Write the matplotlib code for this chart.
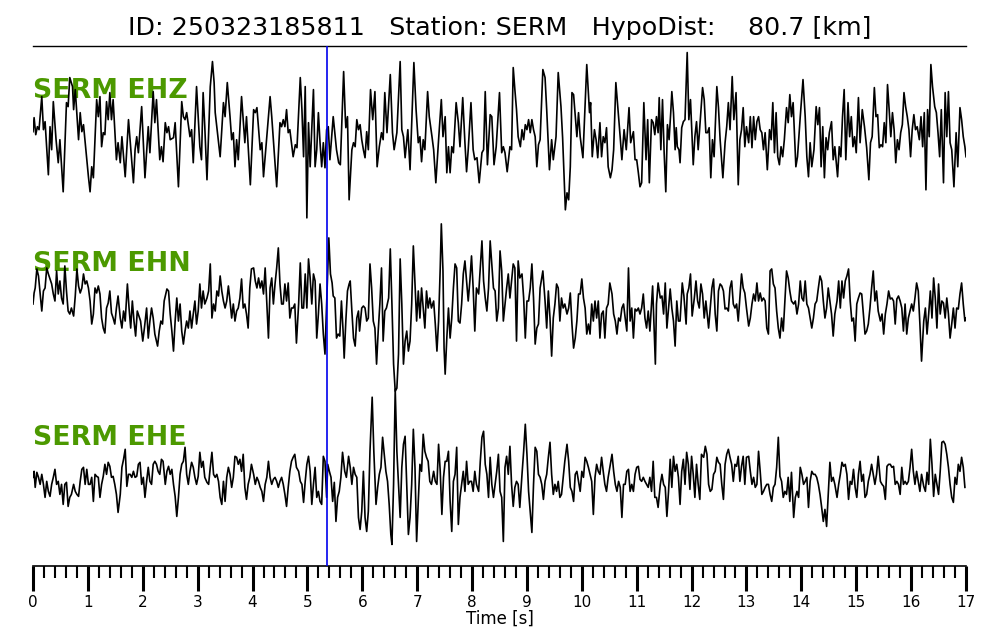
import numpy as np
import matplotlib
matplotlib.use("Agg")
import matplotlib.pyplot as plt
from matplotlib.ticker import MultipleLocator

event_id = "250323185811"
station = "SERM"
hypo_dist = 80.7  # km
channels = ["EHZ", "EHN", "EHE"]
p_pick = 5.36  # s, blue marker

# (time [s], amplitude [counts]) picked off the traces
ehz = [(0.00, 1), (0.02, 15), (0.05, -2), (0.08, 6), (0.11, 3), (0.16, 36), (0.19, 3), (0.22, 11), (0.28, -42), (0.31, 6),
       (0.34, -17), (0.37, 31), (0.42, -7), (0.46, -30), (0.49, -7), (0.55, -59), (0.61, 30), (0.64, 26), (0.67, 55), (0.72, 46),
       (0.74, 23), (0.77, 43), (0.83, -7), (0.86, 20), (0.89, 1), (0.92, 8), (1.01, -44), (1.04, -59), (1.07, -34), (1.10, -45),
       (1.16, 33), (1.19, 16), (1.22, 36), (1.25, -14), (1.28, 0), (1.31, -2), (1.34, 31), (1.37, 13), (1.40, 40), (1.43, 13),
       (1.46, 33), (1.52, -27), (1.55, -10), (1.59, -30), (1.62, -4), (1.68, -44), (1.74, 13), (1.83, -50), (1.86, -17), (1.89, -4),
       (1.92, -20), (1.98, 26), (2.04, -45), (2.10, 6), (2.13, -20), (2.19, 41), (2.22, 10), (2.25, 33), (2.31, -27), (2.34, -14),
       (2.37, -29), (2.41, 10), (2.44, 0), (2.47, 6), (2.50, -7), (2.56, -5), (2.59, 10), (2.65, -54), (2.71, 31), (2.74, 16),
       (2.77, 13), (2.80, 20), (2.86, -4), (2.89, 3), (2.92, -30), (2.98, 46), (3.04, -14), (3.07, -27), (3.10, 40), (3.13, 6),
       (3.17, -47), (3.23, 46), (3.27, 71), (3.30, 50), (3.32, 20), (3.41, -24), (3.47, 30), (3.50, 16), (3.54, 50), (3.59, 16),
       (3.62, -7), (3.65, 0), (3.68, -34), (3.71, -7), (3.74, -27), (3.80, 36), (3.86, -10), (3.89, 16), (3.96, -52), (4.02, 23),
       (4.05, 20), (4.08, 25), (4.14, -17), (4.17, -10), (4.20, -44), (4.32, 36), (4.35, 16), (4.44, -54), (4.50, 10), (4.53, 6),
       (4.56, 13), (4.59, 6), (4.62, 23), (4.65, 0), (4.68, 3), (4.74, -24), (4.78, -12), (4.81, -15), (4.87, 55), (4.90, 23),
       (4.93, -24), (4.96, 46), (4.99, -85), (5.02, 10), (5.05, -34), (5.11, 43), (5.14, -34), (5.17, -17), (5.20, 20), (5.23, -10),
       (5.26, -34), (5.29, -10), (5.32, -35), (5.35, 3), (5.38, 6), (5.41, -27), (5.47, 16), (5.53, -17), (5.57, -30), (5.60, -32),
       (5.66, 61), (5.69, 16), (5.70, 5), (5.73, 16), (5.76, -67), (5.81, -17), (5.84, -10), (5.87, -14), (5.90, 13), (5.93, 3),
       (5.96, 8), (5.99, -7), (6.02, -17), (6.05, -25), (6.08, 1), (6.11, -17), (6.15, 43), (6.19, 13), (6.23, 41), (6.27, -34),
       (6.31, -14), (6.35, 0), (6.38, -7), (6.41, 40), (6.45, 0), (6.51, 58), (6.55, 0), (6.58, -17), (6.63, 0), (6.69, 71),
       (6.72, 3), (6.75, -4), (6.78, -25), (6.83, 3), (6.87, -37), (6.94, 70), (6.98, 23), (7.02, -10), (7.05, -4), (7.08, -29),
       (7.11, -7), (7.14, -17), (7.19, 41), (7.22, 16), (7.27, -4), (7.30, -17), (7.34, -50), (7.39, -7), (7.44, 33), (7.47, -4),
       (7.51, 16), (7.54, -40), (7.57, -14), (7.60, -40), (7.63, -14), (7.66, -20), (7.71, 30), (7.75, 10), (7.78, -14), (7.83, 35),
       (7.87, -10), (7.90, -39), (7.93, -17), (7.98, 30), (8.02, -17), (8.05, -27), (8.09, -25), (8.13, -50), (8.18, -20), (8.21, -17),
       (8.24, 41), (8.28, -32), (8.33, 18), (8.36, 16), (8.40, -32), (8.44, -14), (8.50, 40), (8.54, -20), (8.57, -14), (8.60, -20),
       (8.64, -39), (8.69, -14), (8.72, -17), (8.75, 65), (8.78, 43), (8.81, 23), (8.84, -4), (8.88, -14), (8.91, 3), (8.94, -7),
       (8.97, 8), (9.00, 3), (9.03, 13), (9.06, 0), (9.09, 13), (9.12, 3), (9.15, -4), (9.18, -34), (9.21, -12), (9.24, -7),
       (9.29, 63), (9.33, 55), (9.36, 23), (9.41, -37), (9.45, -7), (9.48, -27), (9.53, -4), (9.57, 60), (9.62, 26), (9.65, -5),
       (9.70, -77), (9.73, -60), (9.76, -67), (9.79, -34), (9.82, 40), (9.85, 38), (9.91, -4), (9.94, 20), (9.97, -4), (10.02, -25),
       (10.09, 68), (10.14, 20), (10.16, 30), (10.19, -24), (10.23, 3), (10.26, -7), (10.29, -25), (10.33, 10), (10.36, -24), (10.39, -4),
       (10.42, -10), (10.45, 5), (10.48, -34), (10.52, -45), (10.55, -37), (10.58, -17), (10.62, 50), (10.67, 16), (10.70, -5), (10.73, -27),
       (10.77, 3), (10.81, -17), (10.86, 25), (10.89, -10), (10.94, 1), (10.97, -27), (11.00, -27), (11.03, -40), (11.06, -54), (11.09, -50),
       (11.13, 30), (11.17, -27), (11.20, 13), (11.23, -50), (11.27, 13), (11.30, 10), (11.33, -2), (11.36, 16), (11.39, 0), (11.41, 35),
       (11.44, -17), (11.47, 33), (11.50, -20), (11.53, -59), (11.56, 8), (11.59, -7), (11.62, 20), (11.64, 41), (11.67, 20), (11.70, -17),
       (11.72, 5), (11.74, -14), (11.77, -17), (11.79, -30), (11.82, 5), (11.85, 11), (11.88, 13), (11.92, 80), (11.95, 13), (11.98, 33),
       (12.03, -32), (12.06, -4), (12.09, 11), (12.12, -17), (12.15, 6), (12.20, 45), (12.23, 33), (12.26, 0), (12.29, 0), (12.32, 5),
       (12.35, -45), (12.38, -7), (12.41, -24), (12.46, 46), (12.49, 25), (12.52, -7), (12.57, -45), (12.61, -10), (12.64, 6), (12.67, 30),
       (12.70, 3), (12.74, 56), (12.77, 13), (12.81, 40), (12.85, -52), (12.88, -7), (12.91, 3), (12.94, 25), (12.97, -14), (13.00, 6),
       (13.04, -10), (13.07, 16), (13.10, -15), (13.13, 16), (13.16, -7), (13.19, 11), (13.22, 16), (13.25, 3), (13.28, 0), (13.31, -17),
       (13.34, 0), (13.38, -37), (13.42, 3), (13.45, -7), (13.48, 30), (13.51, -20), (13.54, 20), (13.57, -24), (13.60, -32), (13.63, -14),
       (13.66, -24), (13.69, -7), (13.73, 25), (13.76, 10), (13.79, 38), (13.82, 16), (13.85, 30), (13.90, -34), (13.93, -24), (13.98, 16),
       (14.03, 53), (14.07, 16), (14.10, -24), (14.13, -44), (14.16, -10), (14.19, -34), (14.23, -17), (14.27, 26), (14.30, 8), (14.33, 25),
       (14.36, -34), (14.39, 6), (14.42, -45), (14.45, -5), (14.48, -17), (14.51, 0), (14.55, 11), (14.58, -27), (14.61, -14), (14.66, -44),
       (14.69, -14), (14.72, -24), (14.75, 16), (14.78, 43), (14.81, -27), (14.85, 30), (14.88, -4), (14.91, 16), (14.94, -14), (14.97, -4),
       (15.00, -20), (15.04, 35), (15.07, -10), (15.11, 23), (15.15, 6), (15.19, -15), (15.23, -47), (15.26, -10), (15.29, -4), (15.33, 45),
       (15.36, 16), (15.39, 18), (15.42, -15), (15.45, -12), (15.48, -14), (15.51, 10), (15.54, -10), (15.57, 48), (15.60, 23), (15.63, -4),
       (15.66, 20), (15.69, 3), (15.72, -30), (15.75, -7), (15.78, -17), (15.81, 0), (15.84, 8), (15.87, 40), (15.90, 26), (15.93, 16),
       (15.96, 3), (15.99, -24), (16.02, 3), (16.05, 18), (16.08, 3), (16.11, 6), (16.15, -7), (16.18, 16), (16.21, -14), (16.24, 20),
       (16.27, -57), (16.30, 23), (16.33, -4), (16.36, 68), (16.39, 46), (16.43, 26), (16.46, 20), (16.49, 0), (16.52, -24), (16.55, 23),
       (16.59, -50), (16.62, 40), (16.65, -4), (16.68, 41), (16.71, -10), (16.74, -17), (16.78, -54), (16.82, 0), (16.85, -34), (16.89, 25),
       (16.92, 13), (16.95, -4), (16.98, -14), (17.00, -24)]

ehn = [(0.00, 2), (0.02, 13), (0.04, 18), (0.07, 37), (0.10, 30), (0.13, 13), (0.16, -5), (0.19, 15), (0.22, 18), (0.25, 38),
       (0.28, 32), (0.31, 27), (0.34, 22), (0.37, 12), (0.40, 5), (0.43, 35), (0.46, 12), (0.49, 25), (0.52, 8), (0.55, 2),
       (0.58, 40), (0.61, 15), (0.64, -5), (0.67, -8), (0.70, -2), (0.74, -10), (0.77, 10), (0.80, 37), (0.83, 20), (0.86, 13),
       (0.89, 18), (0.92, 32), (0.95, 22), (0.98, 25), (1.01, 18), (1.04, 5), (1.07, -18), (1.10, -8), (1.13, 18), (1.16, 13),
       (1.19, 20), (1.22, 12), (1.25, -12), (1.28, -22), (1.31, -27), (1.34, -2), (1.37, 3), (1.40, 15), (1.43, -7), (1.46, -12),
       (1.49, -18), (1.52, -2), (1.55, 10), (1.59, -12), (1.62, -22), (1.65, -5), (1.68, -15), (1.72, 22), (1.75, -2), (1.78, -22),
       (1.81, 5), (1.84, -15), (1.87, -30), (1.90, -5), (1.93, -10), (1.96, -15), (2.00, -35), (2.03, -22), (2.07, -2), (2.10, -32),
       (2.13, -15), (2.16, -2), (2.19, -12), (2.22, -28), (2.27, -40), (2.30, -25), (2.33, -15), (2.36, -18), (2.39, 5), (2.44, 17),
       (2.47, 15), (2.50, -8), (2.53, -25), (2.56, -45), (2.59, -15), (2.62, 8), (2.65, -15), (2.68, 2), (2.71, -25), (2.74, -38),
       (2.77, -25), (2.80, -15), (2.83, -22), (2.86, -5), (2.89, -22), (2.92, -8), (2.95, 5), (2.98, -18), (3.01, -5), (3.04, 22),
       (3.07, -2), (3.10, 15), (3.13, 2), (3.17, 8), (3.20, 15), (3.23, 42), (3.26, -12), (3.29, 2), (3.32, -5), (3.35, 15),
       (3.38, 10), (3.41, 30), (3.44, 15), (3.47, 5), (3.50, -2), (3.53, 5), (3.56, 20), (3.59, 5), (3.62, -12), (3.65, 2),
       (3.68, -15), (3.71, -5), (3.74, -2), (3.77, 8), (3.80, 27), (3.83, -2), (3.86, 2), (3.89, -8), (3.92, -22), (3.95, 18),
       (3.98, 37), (4.02, 38), (4.05, 25), (4.08, 18), (4.11, 28), (4.14, 18), (4.17, 25), (4.20, 12), (4.23, 38), (4.26, 2),
       (4.29, -32), (4.32, 18), (4.35, 28), (4.38, 2), (4.41, 22), (4.44, 38), (4.47, 58), (4.50, 22), (4.53, 2), (4.56, 2),
       (4.59, 22), (4.62, 5), (4.65, 23), (4.68, -12), (4.71, -2), (4.74, -2), (4.77, 2), (4.80, -37), (4.84, 2), (4.87, 43),
       (4.90, -2), (4.93, -2), (4.96, 32), (4.99, -2), (5.02, 47), (5.05, 28), (5.08, 2), (5.11, 32), (5.14, 25), (5.17, -32),
       (5.20, -8), (5.23, 22), (5.26, 2), (5.29, -28), (5.32, -48), (5.34, -15), (5.37, 35), (5.39, 68), (5.42, 32), (5.45, 23),
       (5.47, 10), (5.50, 8), (5.53, -32), (5.56, -28), (5.59, -30), (5.62, 5), (5.65, -25), (5.67, -52), (5.70, -15), (5.73, 15),
       (5.76, 22), (5.78, 25), (5.81, -5), (5.84, -32), (5.87, -40), (5.90, -12), (5.93, -5), (5.95, -25), (5.99, -2), (6.02, 0),
       (6.05, -2), (6.08, -15), (6.11, -12), (6.14, 42), (6.17, 18), (6.20, -15), (6.23, -22), (6.26, -58), (6.29, -25), (6.32, 2),
       (6.35, 38), (6.38, -35), (6.41, -5), (6.44, -2), (6.48, 8), (6.51, 57), (6.54, 2), (6.57, -58), (6.60, -85), (6.63, -82),
       (6.66, -48), (6.69, 47), (6.72, 2), (6.75, -58), (6.78, -35), (6.81, -25), (6.84, -45), (6.87, -35), (6.90, 2), (6.93, 60),
       (6.96, 22), (6.99, -15), (7.02, 15), (7.05, -12), (7.08, 18), (7.11, -2), (7.14, -22), (7.17, 15), (7.20, -2), (7.23, 8),
       (7.26, -2), (7.30, 5), (7.33, -18), (7.36, -45), (7.39, -15), (7.42, 38), (7.44, 82), (7.47, 35), (7.49, -42), (7.51, -68),
       (7.54, -32), (7.57, -2), (7.60, -32), (7.63, -12), (7.66, 18), (7.69, 42), (7.72, 38), (7.75, -15), (7.78, -17), (7.81, 2),
       (7.84, 32), (7.87, 45), (7.90, 25), (7.93, 5), (7.96, 25), (7.99, 50), (8.02, 18), (8.05, -25), (8.08, 18), (8.12, 12),
       (8.15, 38), (8.18, 65), (8.21, 25), (8.24, 8), (8.27, -5), (8.30, 18), (8.33, 65), (8.36, 42), (8.39, 18), (8.42, 15),
       (8.45, -15), (8.48, -2), (8.51, 55), (8.54, 35), (8.57, -15), (8.60, 2), (8.63, 18), (8.66, 32), (8.69, 8), (8.72, 25),
       (8.75, 42), (8.78, 38), (8.81, -35), (8.84, 45), (8.87, 28), (8.91, 32), (8.94, 8), (8.97, -32), (9.00, 5), (9.03, 5),
       (9.06, 18), (9.09, 42), (9.12, 8), (9.15, -38), (9.18, -22), (9.21, -18), (9.24, 18), (9.29, 35), (9.33, 5), (9.36, -22),
       (9.39, 15), (9.42, -12), (9.45, -50), (9.48, -12), (9.51, 2), (9.54, 22), (9.57, 18), (9.60, -15), (9.63, 8), (9.66, -2),
       (9.69, 2), (9.73, -8), (9.76, -2), (9.79, 13), (9.82, -18), (9.85, -42), (9.88, -32), (9.91, -15), (9.94, 12), (9.97, 12),
       (10.00, 27), (10.03, 8), (10.06, -2), (10.09, -28), (10.12, -18), (10.15, -28), (10.18, 2), (10.21, -15), (10.24, 5), (10.27, -12),
       (10.30, 5), (10.33, -32), (10.36, -8), (10.39, -5), (10.42, -32), (10.45, -2), (10.48, 2), (10.51, 23), (10.55, 12), (10.58, -8),
       (10.61, -15), (10.64, -28), (10.67, -12), (10.70, -15), (10.73, -2), (10.76, 2), (10.79, -12), (10.82, -25), (10.85, 38), (10.88, -15),
       (10.91, -2), (10.94, -32), (10.97, -3), (11.00, -5), (11.03, -2), (11.06, -8), (11.09, -2), (11.12, 12), (11.15, -12), (11.18, -22),
       (11.21, -5), (11.24, -25), (11.29, 20), (11.34, -58), (11.36, 2), (11.39, 23), (11.43, 8), (11.46, 10), (11.49, -8), (11.52, 23),
       (11.55, -22), (11.58, -2), (11.61, 17), (11.64, -2), (11.67, -15), (11.70, -40), (11.73, 5), (11.76, -15), (11.79, -15), (11.83, 23),
       (11.86, 10), (11.90, -18), (11.92, 12), (11.95, 18), (11.98, 32), (12.01, -10), (12.05, 8), (12.08, 25), (12.11, 5), (12.14, -2),
       (12.17, 22), (12.20, 12), (12.23, -12), (12.26, 5), (12.31, -22), (12.34, -2), (12.37, 18), (12.40, 27), (12.43, -8), (12.46, -25),
       (12.49, 15), (12.52, 22), (12.55, 20), (12.58, 15), (12.61, -3), (12.64, -2), (12.67, -5), (12.70, 18), (12.73, 25), (12.76, 2),
       (12.79, -2), (12.82, 2), (12.85, -15), (12.88, 8), (12.91, 32), (12.94, 18), (12.97, 13), (13.00, -2), (13.04, -20), (13.07, -12),
       (13.10, 2), (13.13, 12), (13.16, 5), (13.19, 23), (13.22, 5), (13.25, 13), (13.28, 5), (13.31, 8), (13.34, 5), (13.37, -22),
       (13.40, -28), (13.43, 35), (13.46, 37), (13.49, 22), (13.52, 18), (13.55, -5), (13.58, -22), (13.61, -32), (13.64, -12), (13.67, -25),
       (13.70, 5), (13.73, 35), (13.76, 28), (13.79, 15), (13.82, 5), (13.86, 2), (13.89, 5), (13.92, -8), (13.95, 2), (13.98, 25),
       (14.01, 8), (14.04, 5), (14.07, 25), (14.10, 2), (14.13, -2), (14.16, -12), (14.19, -22), (14.22, -12), (14.25, 2), (14.28, 5),
       (14.31, 18), (14.34, 30), (14.37, 25), (14.40, 5), (14.43, -12), (14.46, -2), (14.49, 18), (14.52, 5), (14.55, -8), (14.58, -30),
       (14.61, -8), (14.65, 5), (14.68, 25), (14.71, -2), (14.74, 25), (14.77, 8), (14.80, 25), (14.83, 30), (14.86, 37), (14.89, 5),
       (14.92, -15), (14.95, -12), (14.98, -35), (15.01, 2), (15.04, 8), (15.07, 13), (15.10, 12), (15.13, -8), (15.16, -28), (15.19, -25),
       (15.22, -18), (15.25, -2), (15.28, 18), (15.31, 35), (15.34, 5), (15.37, 15), (15.40, -5), (15.44, -15), (15.47, -8), (15.50, -28),
       (15.53, -8), (15.56, 2), (15.59, 15), (15.62, 7), (15.65, 8), (15.68, 5), (15.71, -18), (15.74, 7), (15.77, 10), (15.80, 5),
       (15.83, -2), (15.86, -25), (15.89, 2), (15.92, -28), (15.95, -12), (15.98, -5), (16.01, 2), (16.04, -5), (16.07, 8), (16.10, 23),
       (16.13, 15), (16.16, -18), (16.19, -55), (16.23, -15), (16.26, -2), (16.29, -28), (16.32, -8), (16.35, 15), (16.38, -12), (16.41, 28),
       (16.44, 8), (16.47, -22), (16.50, 22), (16.53, -8), (16.56, 5), (16.59, 3), (16.62, -12), (16.65, 8), (16.68, -8), (16.71, -32),
       (16.74, -18), (16.77, -2), (16.80, -22), (16.83, -2), (16.86, -3), (16.89, 12), (16.92, 23), (16.95, 2), (16.98, -15), (17.00, -12)]

ehe = [(0.00, 2), (0.02, 8), (0.04, -8), (0.07, 7), (0.10, 2), (0.13, -5), (0.16, 5), (0.19, -5), (0.22, -18), (0.25, -2),
       (0.28, -12), (0.31, -17), (0.34, -5), (0.37, 2), (0.40, 10), (0.43, -5), (0.46, -2), (0.49, -15), (0.52, -5), (0.55, -25),
       (0.58, -5), (0.61, -3), (0.64, -27), (0.67, -18), (0.70, -15), (0.74, -5), (0.77, -12), (0.80, -15), (0.83, -17), (0.86, -2),
       (0.89, 10), (0.92, 12), (0.95, -5), (0.98, 10), (1.01, -5), (1.04, -5), (1.07, 2), (1.10, -22), (1.13, 5), (1.16, 3),
       (1.19, 2), (1.22, -18), (1.25, -5), (1.28, 3), (1.31, 15), (1.34, 5), (1.37, 17), (1.40, 13), (1.43, 2), (1.46, 3),
       (1.49, -5), (1.52, -15), (1.55, -33), (1.59, -15), (1.62, 12), (1.65, 20), (1.68, 30), (1.71, -7), (1.74, 5), (1.77, 5),
       (1.80, 2), (1.83, 8), (1.86, 2), (1.89, 3), (1.92, 15), (1.95, 17), (1.98, -5), (2.01, 2), (2.04, -18), (2.07, -2),
       (2.10, 12), (2.13, -2), (2.16, -5), (2.19, 15), (2.22, 18), (2.25, 15), (2.28, 8), (2.31, 5), (2.34, 20), (2.37, 18),
       (2.41, -5), (2.44, 8), (2.47, 13), (2.50, 5), (2.53, 10), (2.56, -5), (2.59, -17), (2.62, -37), (2.65, -18), (2.68, 5),
       (2.71, 15), (2.74, 18), (2.77, 32), (2.80, 5), (2.83, -5), (2.86, 8), (2.89, 17), (2.92, 12), (2.95, 2), (2.98, -5),
       (3.01, 3), (3.04, 27), (3.07, 12), (3.10, 18), (3.13, 2), (3.17, -3), (3.20, -5), (3.23, 12), (3.26, 27), (3.29, 5),
       (3.32, 2), (3.35, 5), (3.38, -2), (3.41, -18), (3.44, -25), (3.47, -2), (3.50, -22), (3.53, 2), (3.56, 12), (3.59, 5),
       (3.62, -8), (3.65, 2), (3.68, 23), (3.71, 22), (3.74, 15), (3.77, 20), (3.80, 8), (3.83, 25), (3.86, -8), (3.89, -20),
       (3.92, -5), (3.95, 2), (3.98, 15), (4.02, 5), (4.05, -5), (4.08, 2), (4.11, -2), (4.14, -8), (4.17, -12), (4.20, -22),
       (4.23, -5), (4.26, 2), (4.29, 18), (4.32, 2), (4.35, -5), (4.38, 0), (4.41, 2), (4.44, -2), (4.47, -8), (4.50, -2),
       (4.53, 2), (4.56, -5), (4.59, -15), (4.62, -27), (4.65, -8), (4.68, 8), (4.71, 18), (4.74, 22), (4.77, 25), (4.80, 12),
       (4.84, 8), (4.87, -2), (4.90, -5), (4.93, -23), (4.96, -2), (4.99, 15), (5.02, 23), (5.05, 8), (5.08, -25), (5.11, -5),
       (5.14, 12), (5.17, -18), (5.20, -12), (5.23, -22), (5.26, -25), (5.29, 23), (5.32, 18), (5.35, -18), (5.37, 15), (5.40, 8),
       (5.43, 2), (5.46, -22), (5.49, -3), (5.52, -42), (5.55, -18), (5.58, -12), (5.61, 2), (5.64, 27), (5.68, 8), (5.71, 2),
       (5.75, 23), (5.78, 12), (5.81, -5), (5.84, 12), (5.87, 5), (5.90, 2), (5.93, -38), (5.96, -50), (5.99, -32), (6.02, 8),
       (6.05, -38), (6.08, -52), (6.11, -32), (6.14, 28), (6.18, 82), (6.21, 28), (6.25, -25), (6.28, -8), (6.31, 5), (6.34, 12),
       (6.37, 42), (6.40, 25), (6.43, 8), (6.46, -2), (6.49, -25), (6.52, -55), (6.54, -65), (6.57, -5), (6.60, 90), (6.63, 28),
       (6.66, -5), (6.69, -38), (6.72, 12), (6.75, 35), (6.78, 43), (6.81, -5), (6.84, -55), (6.87, -38), (6.90, -5), (6.93, 50),
       (6.96, 12), (6.99, -62), (7.02, -22), (7.05, 15), (7.08, 8), (7.11, 45), (7.14, 28), (7.17, 22), (7.20, 18), (7.23, -2),
       (7.26, -5), (7.30, 8), (7.33, -2), (7.36, -5), (7.39, 35), (7.42, 8), (7.45, -35), (7.48, 2), (7.51, 18), (7.54, 18),
       (7.57, 28), (7.60, -22), (7.63, -52), (7.66, -2), (7.69, 5), (7.72, 32), (7.75, -45), (7.78, -18), (7.81, -5), (7.84, 8),
       (7.87, -12), (7.90, 18), (7.93, -5), (7.96, -2), (7.99, -2), (8.02, -12), (8.05, 8), (8.08, -5), (8.12, -12), (8.15, 18),
       (8.18, 42), (8.21, 48), (8.24, 15), (8.27, 5), (8.30, -18), (8.33, 22), (8.36, -5), (8.39, -18), (8.42, -5), (8.45, 8),
       (8.48, 25), (8.51, -12), (8.54, -18), (8.57, -62), (8.60, 12), (8.63, 23), (8.66, 5), (8.69, 33), (8.72, -5), (8.75, -27),
       (8.78, -8), (8.81, -2), (8.84, -5), (8.87, -28), (8.91, 5), (8.94, 28), (8.97, 55), (9.00, 25), (9.03, -12), (9.06, -32),
       (9.09, -53), (9.12, -5), (9.15, 32), (9.18, 28), (9.21, 5), (9.24, 2), (9.27, -5), (9.30, -20), (9.33, -2), (9.36, 5),
       (9.39, 22), (9.42, 37), (9.45, 5), (9.48, -15), (9.51, -5), (9.54, -12), (9.57, -2), (9.60, -18), (9.63, -15), (9.66, 2),
       (9.69, 18), (9.73, 35), (9.76, 18), (9.79, -8), (9.82, -12), (9.85, -22), (9.88, 5), (9.91, 8), (9.94, -2), (9.97, -12),
       (10.00, 8), (10.03, 2), (10.06, 22), (10.09, 18), (10.12, 12), (10.15, 5), (10.18, -2), (10.21, -35), (10.24, 2), (10.27, 15),
       (10.30, 8), (10.33, 5), (10.36, 22), (10.39, 8), (10.42, -5), (10.45, -12), (10.48, 2), (10.51, 12), (10.55, 25), (10.58, 8),
       (10.61, -5), (10.64, -12), (10.67, -2), (10.70, -8), (10.73, -38), (10.76, -5), (10.79, -5), (10.82, 8), (10.85, 10), (10.88, -12),
       (10.91, -5), (10.94, -12), (10.97, 5), (11.00, 12), (11.03, 13), (11.06, 0), (11.09, -2), (11.12, 2), (11.15, -2), (11.18, -5),
       (11.21, -8), (11.24, 2), (11.27, -12), (11.30, 18), (11.33, -18), (11.36, -18), (11.39, -28), (11.43, -5), (11.46, 5), (11.49, -5),
       (11.52, -8), (11.55, -37), (11.58, -12), (11.61, 20), (11.64, -8), (11.67, 23), (11.70, 8), (11.73, 15), (11.76, 2), (11.79, -25),
       (11.82, 8), (11.85, 20), (11.88, -5), (11.91, 27), (11.94, 15), (11.97, -10), (12.00, 23), (12.03, 5), (12.06, -18), (12.09, 15),
       (12.12, -5), (12.15, -20), (12.18, 25), (12.22, 22), (12.25, 33), (12.28, 25), (12.31, -5), (12.34, -12), (12.37, -10), (12.40, 5),
       (12.43, 8), (12.46, 22), (12.49, 17), (12.52, 15), (12.55, -5), (12.58, -20), (12.61, 15), (12.64, 25), (12.67, 30), (12.70, 22),
       (12.73, 15), (12.76, -2), (12.79, 15), (12.82, 13), (12.85, 23), (12.88, -2), (12.91, 13), (12.94, 23), (12.97, -5), (13.00, 22),
       (13.04, 23), (13.07, 8), (13.10, -5), (13.13, 2), (13.16, -8), (13.19, -5), (13.22, 28), (13.25, 8), (13.28, -15), (13.31, -12),
       (13.34, -8), (13.37, -5), (13.40, -5), (13.43, -15), (13.46, -22), (13.49, -8), (13.52, -5), (13.55, 12), (13.58, 42), (13.61, 3),
       (13.64, -2), (13.67, -18), (13.70, -12), (13.73, -15), (13.76, 2), (13.79, -22), (13.82, 7), (13.86, -38), (13.89, -18), (13.92, -12),
       (13.95, -18), (13.98, 12), (14.01, 5), (14.04, -5), (14.07, -2), (14.10, 2), (14.13, -28), (14.16, -2), (14.19, 8), (14.22, 5),
       (14.25, 5), (14.28, 2), (14.31, -5), (14.34, -15), (14.37, -28), (14.40, -42), (14.43, -30), (14.46, -47), (14.49, -15), (14.52, 17),
       (14.55, -2), (14.58, 2), (14.61, -5), (14.65, -18), (14.68, -5), (14.71, 5), (14.74, 17), (14.77, 13), (14.80, 15), (14.83, 5),
       (14.86, -20), (14.89, -2), (14.92, -5), (14.95, 10), (14.98, -8), (15.01, -18), (15.04, 5), (15.07, 18), (15.10, -2), (15.13, 5),
       (15.16, -18), (15.19, -15), (15.22, -2), (15.25, 5), (15.28, 15), (15.31, 5), (15.34, -5), (15.37, 5), (15.40, 23), (15.44, -2),
       (15.47, -5), (15.50, -7), (15.53, -20), (15.56, 13), (15.59, 15), (15.62, 15), (15.65, 12), (15.68, 13), (15.71, -5), (15.74, -2),
       (15.77, -5), (15.80, -15), (15.83, 12), (15.86, -5), (15.89, -2), (15.92, -5), (15.95, -2), (15.98, 12), (16.01, 30), (16.04, 8),
       (16.07, -5), (16.10, 8), (16.13, -2), (16.16, -12), (16.19, 5), (16.23, -7), (16.26, -12), (16.29, 7), (16.32, -5), (16.35, 40),
       (16.38, 15), (16.41, -17), (16.44, 5), (16.47, -5), (16.50, -15), (16.53, 8), (16.56, 37), (16.59, 38), (16.62, 35), (16.65, 25),
       (16.68, 12), (16.71, -5), (16.74, -18), (16.77, -23), (16.80, 2), (16.83, -5), (16.86, 15), (16.89, 8), (16.92, 22), (16.95, 12),
       (16.98, -8)]

traces = [ehz, ehn, ehe]
counts_per_row = 173.0  # amplitude that fills one trace spacing

fig = plt.figure(figsize=(10, 6.4), dpi=100)
ax = fig.add_axes([0.033, 0.1156, 0.933, 0.8125])

for i, (chan, tr) in enumerate(zip(channels, traces)):
    d = np.array(tr, dtype=float)
    ax.plot(d[:, 0], -i + d[:, 1] / counts_per_row, color="black", lw=1.2, zorder=2)
    ax.text(0.0, -i + 0.24, f"{station} {chan}", color="#4c9900", fontsize=19.3,
            fontweight="bold", ha="left", va="center", zorder=1)

ax.axvline(p_pick, color="#0000ee", lw=1.2, zorder=3)

ax.set_xlim(0, 17)
ax.set_ylim(-2.5, 0.5)
ax.xaxis.set_major_locator(MultipleLocator(1))
ax.xaxis.set_minor_locator(MultipleLocator(0.2))
ax.tick_params(axis="x", which="major", direction="out", length=18, width=2.2, labelsize=11, pad=3)
ax.tick_params(axis="x", which="minor", direction="out", length=8.5, width=1.5)
ax.set_yticks([])
ax.spines["left"].set_visible(False)
ax.spines["right"].set_visible(False)
ax.spines["top"].set_linewidth(1.0)
ax.spines["bottom"].set_linewidth(1.2)
ax.set_xlabel("Time [s]", fontsize=12, labelpad=0)
ax.set_title(f"ID: {event_id}   Station: {station}   HypoDist:    {hypo_dist} [km]", fontsize=18.3, pad=8)

fig.savefig("out.png", dpi=100)
